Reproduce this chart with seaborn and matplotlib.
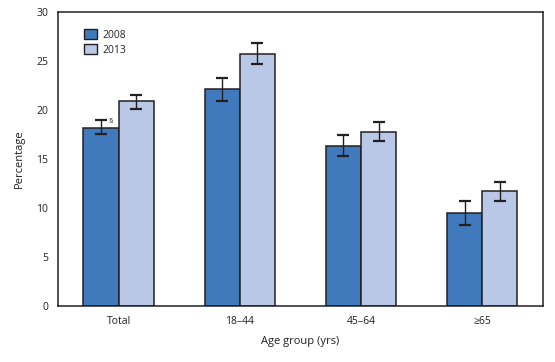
import matplotlib
matplotlib.use("Agg")
import matplotlib.pyplot as plt
import seaborn as sns
import pandas as pd
import numpy as np

categories = ["Total", "18\u201344", "45\u201364", "\u226565"]
years = ["2008", "2013"]
values_2008 = [18.2, 22.1, 16.3, 9.5]
values_2013 = [20.9, 25.7, 17.8, 11.7]
lower_2008 = [17.5, 20.9, 15.3, 8.3]
upper_2008 = [19.0, 23.3, 17.4, 10.7]
lower_2013 = [20.1, 24.7, 16.8, 10.7]
upper_2013 = [21.5, 26.8, 18.8, 12.7]

sns.set_theme(style="white")
plt.rcParams['font.family'] = ['Open Sans', 'DejaVu Sans']

df = pd.DataFrame({
    "group": categories * 2,
    "year": [years[0]] * 4 + [years[1]] * 4,
    "value": values_2008 + values_2013,
})

fig = plt.figure(figsize=(5.55, 3.62), dpi=100)
ax = fig.add_axes([0.1045, 0.1547, 0.8735, 0.8122])

colors = ["#4079BC", "#B8C8E6"]
sns.barplot(data=df, x="group", y="value", hue="year", palette=colors,
            width=0.58, edgecolor="#231F20", linewidth=1.1, ax=ax,
            errorbar=None, saturation=1)

bar_containers = list(ax.containers)
lows = [lower_2008, lower_2013]
highs = [upper_2008, upper_2013]
vals = [values_2008, values_2013]
for i, cont in enumerate(bar_containers):
    xs = [p.get_x() + p.get_width() / 2 for p in cont.patches]
    v = np.array(vals[i])
    lo = v - np.array(lows[i])
    hi = np.array(highs[i]) - v
    ax.errorbar(xs, v, yerr=[lo, hi], fmt="none", ecolor="#231F20",
                elinewidth=1.0, capsize=4, capthick=1.6, zorder=5)

# section sign annotation
p0 = bar_containers[0].patches[0]
ax.text(p0.get_x() + p0.get_width() / 2 + 0.065, upper_2008[0] - 0.2, "\u00a7",
        fontsize=6, color="#231F20", ha="left", va="center")

ax.set_xlim(-0.5, 3.5)
ax.set_ylim(0, 30)
ax.set_yticks(range(0, 31, 5))
ax.set_xlabel("Age group (yrs)", fontsize=8, color="#231F20", labelpad=7)
ax.set_ylabel("Percentage", fontsize=8, color="#231F20", labelpad=8)
ax.tick_params(axis="both", which="both", direction="out", length=5,
               width=1, color="#231F20", labelsize=7.5, labelcolor="#231F20")
ax.tick_params(axis="x", pad=3, length=4)
ax.tick_params(axis="y", pad=2)
for s in ax.spines.values():
    s.set_visible(True)
    s.set_color("#231F20")
    s.set_linewidth(1.1)

leg = ax.legend(loc="upper left", bbox_to_anchor=(0.035, 0.975), frameon=False,
                fontsize=7.5, handlelength=1.2, handleheight=1.2,
                handletextpad=0.5, labelspacing=0.3, title=None)
for h in leg.legend_handles:
    h.set_edgecolor("#231F20")
    h.set_linewidth(1.0)

fig.savefig("out.png", dpi=100)
